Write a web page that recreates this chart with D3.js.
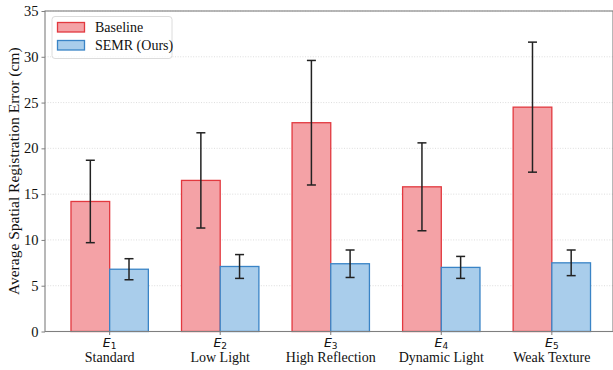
<!DOCTYPE html>
<html>
<head>
<meta charset="utf-8">
<script src="https://cdn.jsdelivr.net/npm/d3@7"></script>
<style>
  body { margin: 0; background: #fff; }
  svg { display: block; }
</style>
</head>
<body>
<svg width="613" height="370"></svg>
<script>
// data
const envIds = ["1", "2", "3", "4", "5"];
const envNames = ["Standard", "Low Light", "High Reflection", "Dynamic Light", "Weak Texture"];
const baseline = [14.2, 16.5, 22.8, 15.8, 24.5];
const baselineErr = [4.5, 5.2, 6.8, 4.8, 7.1];
const semr = [6.8, 7.1, 7.4, 7.0, 7.5];
const semrErr = [1.15, 1.3, 1.5, 1.2, 1.4];
const yTicks = [0, 5, 10, 15, 20, 25, 30, 35];

const svg = d3.select("svg");
const margin = {left: 45, right: 0, top: 11, bottom: 38.5};
const width = 613 - margin.left - margin.right,
    height = 370 - margin.top - margin.bottom;
const g = svg.append("g").attr("transform", `translate(${margin.left},${margin.top})`);

const serif = "'Liberation Serif', 'Times New Roman', serif";
const barW = 0.35;

// x is a linear scale in group units, like matplotlib
const x = d3.scaleLinear().domain([-0.585, 4.585]).range([0, width + 3.5]);
const y = d3.scaleLinear().domain([0, 35]).range([height, 0]);

// grid
g.append("g")
    .selectAll("line")
    .data(yTicks.slice(1))
    .join("line")
    .attr("x1", 0).attr("x2", width)
    .attr("y1", d => y(d)).attr("y2", d => y(d))
    .attr("stroke", "#d4d4d4")
    .attr("stroke-width", 0.8)
    .attr("stroke-dasharray", "1,1.6");

const series = [
    {name: "Baseline", vals: baseline, errs: baselineErr, off: -barW / 2, fill: "#f4a2a6", stroke: "#e2393f"},
    {name: "SEMR (Ours)", vals: semr, errs: semrErr, off: barW / 2, fill: "#a9cdeb", stroke: "#3a84c6"}
];

series.forEach(s => {
    g.append("g")
        .selectAll("rect")
        .data(s.vals)
        .join("rect")
        .attr("x", (d, i) => x(i + s.off - barW / 2))
        .attr("y", d => y(d))
        .attr("width", x(barW) - x(0))
        .attr("height", d => height - y(d))
        .attr("fill", s.fill)
        .attr("stroke", s.stroke)
        .attr("stroke-width", 1.3);
});

// error bars
series.forEach(s => {
    const eg = g.append("g").attr("stroke", "#222").attr("stroke-width", 1.5);
    s.vals.forEach((v, i) => {
        const cx = x(i + s.off);
        const lo = y(v - s.errs[i]), hi = y(v + s.errs[i]);
        eg.append("line").attr("x1", cx).attr("x2", cx).attr("y1", lo).attr("y2", hi);
        eg.append("line").attr("x1", cx - 4.5).attr("x2", cx + 4.5).attr("y1", lo).attr("y2", lo);
        eg.append("line").attr("x1", cx - 4.5).attr("x2", cx + 4.5).attr("y1", hi).attr("y2", hi);
    });
});

// spines
const spine = "#7f7f7f";
g.append("rect")
    .attr("x", 0).attr("y", 0)
    .attr("width", width).attr("height", height)
    .attr("fill", "none")
    .attr("stroke", spine)
    .attr("stroke-width", 1.1);

// y axis
const yAxis = g.append("g")
    .call(d3.axisLeft(y).tickValues(yTicks).tickSize(3.5).tickPadding(3));
yAxis.select(".domain").remove();
yAxis.selectAll("line").attr("stroke", spine);
yAxis.selectAll("text")
    .attr("fill", "#111")
    .style("font-family", serif)
    .style("font-size", "14.5px");

// x ticks
g.append("g")
    .selectAll("line")
    .data(envIds)
    .join("line")
    .attr("x1", (d, i) => x(i)).attr("x2", (d, i) => x(i))
    .attr("y1", height).attr("y2", height + 3.5)
    .attr("stroke", spine);

// E_i labels
const eLab = g.append("g")
    .selectAll("text")
    .data(envIds)
    .join("text")
    .attr("x", (d, i) => x(i))
    .attr("y", height + 15.5)
    .attr("text-anchor", "middle")
    .style("font-family", "'DejaVu Sans', sans-serif")
    .style("font-size", "12.5px")
    .attr("fill", "#111");
eLab.append("tspan").style("font-style", "italic").text("E");
eLab.append("tspan").attr("dy", 2).style("font-size", "9px").text(d => d);

g.append("g")
    .selectAll("text")
    .data(envNames)
    .join("text")
    .attr("x", (d, i) => x(i))
    .attr("y", height + 30.5)
    .attr("text-anchor", "middle")
    .style("font-family", serif)
    .style("font-size", "14px")
    .attr("fill", "#111")
    .text(d => d);

// y label
svg.append("text")
    .attr("transform", `translate(19,${margin.top + height / 2}) rotate(-90)`)
    .attr("text-anchor", "middle")
    .style("font-family", serif)
    .style("font-size", "15.5px")
    .attr("fill", "#111")
    .text("Average Spatial Registration Error (cm)");

// legend
const lg = g.append("g").attr("transform", "translate(7,5.5)");
lg.append("rect")
    .attr("width", 120).attr("height", 42)
    .attr("rx", 3)
    .attr("fill", "#fff").attr("fill-opacity", 0.8)
    .attr("stroke", "#dcdcdc");
series.forEach((s, i) => {
    lg.append("rect")
        .attr("x", 5.5).attr("y", 6 + i * 18)
        .attr("width", 27).attr("height", 9.5)
        .attr("fill", s.fill)
        .attr("stroke", s.stroke)
        .attr("stroke-width", 1.3);
    lg.append("text")
        .attr("x", 43).attr("y", 15.5 + i * 18)
        .style("font-family", serif)
        .style("font-size", "14px")
        .attr("fill", "#111")
        .text(s.name);
});
</script>
</body>
</html>
